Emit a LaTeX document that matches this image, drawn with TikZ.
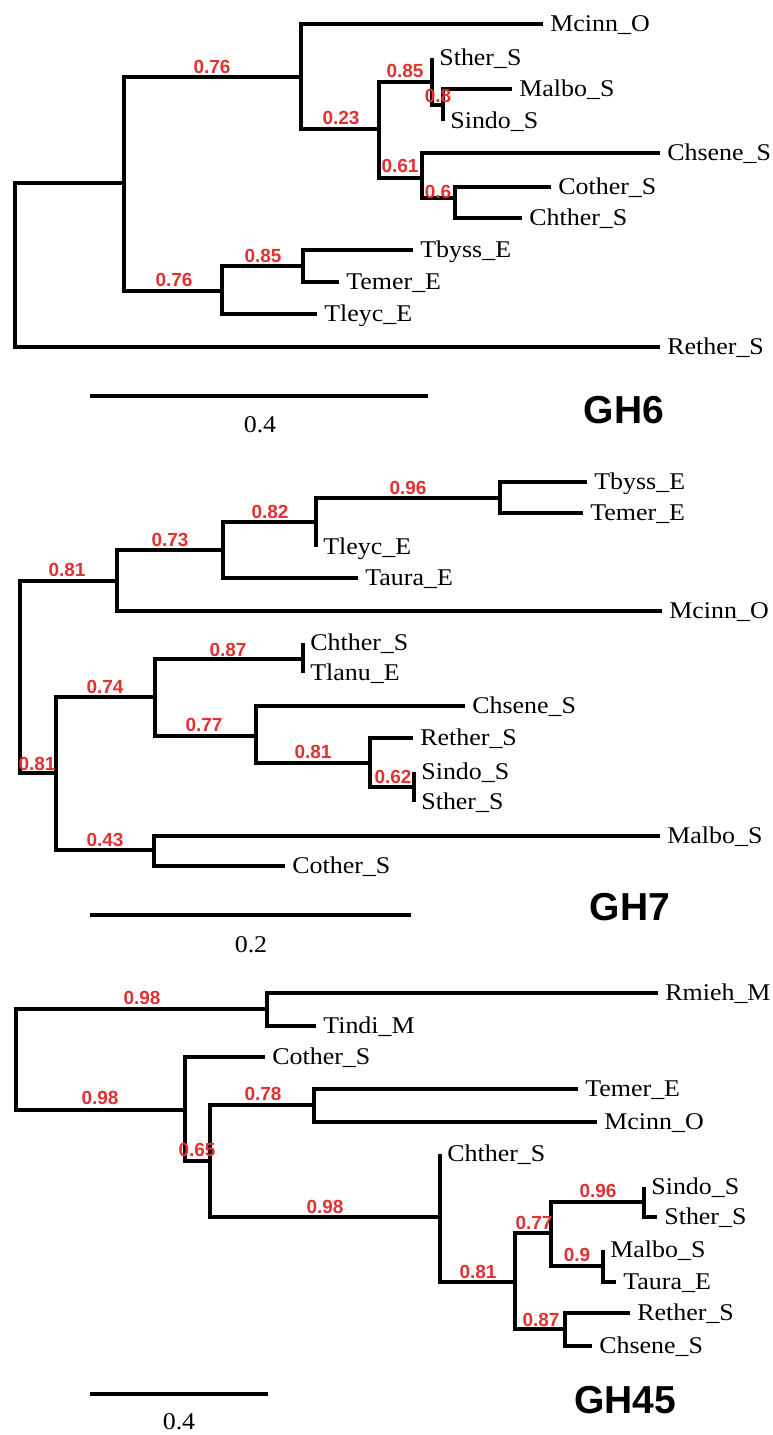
\documentclass[tikz,border=0pt]{standalone}
\usepackage{fontspec}
\setmainfont{Liberation Serif}[FakeStretch=1.08]
\newfontfamily\bsfont{Liberation Sans}
\definecolor{supred}{HTML}{E03232}
\tikzset{
  branch/.style={line width=1.7pt, line join=miter},
  leaf/.style={anchor=west, inner xsep=3.5pt, inner ysep=0pt, text height=7.9pt, text depth=0pt, font=\fontsize{12}{13}\selectfont},
  bs/.style={text=supred, inner sep=0pt, font=\bsfont\bfseries\fontsize{9.5}{10}\selectfont},
  scaletext/.style={inner sep=0pt, font=\fontsize{12}{13}\selectfont},
  title/.style={inner sep=0pt, font=\bsfont\bfseries\fontsize{19.5}{20}\selectfont}
}
\begin{document}
\begin{tikzpicture}[x=0.5pt,y=-0.5pt]
\fill[white] (0,0) rectangle (772,1435);
\useasboundingbox (0,0) rectangle (772,1435);

% ---------------- GH6 ----------------
\coordinate (a0) at (15,265);
\coordinate (a1) at (124,183);
\coordinate (a2) at (301,77);
\node[leaf] (aMcinn) at (543,24) {Mcinn\_O};
\coordinate (a3) at (379,129);
\coordinate (a4) at (432,82);
\node[leaf] (aSther) at (432,58) {Sther\_S};
\coordinate (a5) at (443,105);
\node[leaf] (aMalbo) at (512,89) {Malbo\_S};
\node[leaf] (aSindo) at (443,121) {Sindo\_S};
\coordinate (a6) at (422,178);
\node[leaf] (aChsene) at (660,153) {Chsene\_S};
\coordinate (a7) at (455,198);
\node[leaf] (aCother) at (551,187) {Cother\_S};
\node[leaf] (aChther) at (522,218) {Chther\_S};
\coordinate (a8) at (222,291);
\coordinate (a9) at (303,266);
\node[leaf] (aTbyss) at (413,250) {Tbyss\_E};
\node[leaf] (aTemer) at (339,282) {Temer\_E};
\node[leaf] (aTleyc) at (317,314) {Tleyc\_E};
\node[leaf] (aRether) at (660,347) {Rether\_S};

\draw[branch] (a0) |- (a1);
\draw[branch] (a0) |- (aRether.west);
\draw[branch] (a1) |- (a2);
\draw[branch] (a1) |- (a8);
\draw[branch] (a2) |- (aMcinn.west);
\draw[branch] (a2) |- (a3);
\draw[branch] (a3) |- (a4);
\draw[branch] (a3) |- (a6);
\draw[branch] (a4) |- (aSther.west);
\draw[branch] (a4) |- (a5);
\draw[branch] (a5) |- (aMalbo.west);
\draw[branch] (a5) |- (aSindo.west);
\draw[branch] (a6) |- (aChsene.west);
\draw[branch] (a6) |- (a7);
\draw[branch] (a7) |- (aCother.west);
\draw[branch] (a7) |- (aChther.west);
\draw[branch] (a8) |- (a9);
\draw[branch] (a8) |- (aTleyc.west);
\draw[branch] (a9) |- (aTbyss.west);
\draw[branch] (a9) |- (aTemer.west);

\node[bs] (as1) at (212,67) {0.76};
\node[bs] (as2) at (341,118) {0.23};
\node[bs] (as3) at (405,71) {0.85};
\node[bs] (as4) at (438,96) {0.8};
\node[bs] (as5) at (400,166) {0.61};
\node[bs] (as6) at (438,192) {0.6};
\node[bs] (as7) at (174,280) {0.76};
\node[bs] (as8) at (263,256) {0.85};

\coordinate (asa) at (90,396);
\coordinate (asb) at (428,396);
\draw[branch] (asa) -- (asb);
\node[scaletext] (asl) at (260,425) {0.4};
\node[title] (at) at (624,410) {GH6};

% ---------------- GH7 ----------------
\coordinate (b0) at (20,677);
\coordinate (b1) at (117,581);
\coordinate (b2) at (223,550);
\coordinate (b3) at (316,522);
\coordinate (b4) at (500,498);
\node[leaf] (bTbyss) at (587,482) {Tbyss\_E};
\node[leaf] (bTemer) at (583,513) {Temer\_E};
\node[leaf] (bTleyc) at (316,547) {Tleyc\_E};
\node[leaf] (bTaura) at (358,578) {Taura\_E};
\node[leaf] (bMcinn) at (662,611) {Mcinn\_O};
\coordinate (b5) at (56,773);
\coordinate (b6) at (155,697);
\coordinate (b7) at (303,659);
\node[leaf] (bChther) at (303,643) {Chther\_S};
\node[leaf] (bTlanu) at (303,673) {Tlanu\_E};
\coordinate (b8) at (256,736);
\node[leaf] (bChsene) at (465,706) {Chsene\_S};
\coordinate (b9) at (370,763);
\node[leaf] (bRether) at (413,738) {Rether\_S};
\coordinate (b10) at (414,787);
\node[leaf] (bSindo) at (414,772) {Sindo\_S};
\node[leaf] (bSther) at (414,802) {Sther\_S};
\coordinate (b11) at (154,850);
\node[leaf] (bMalbo) at (660,836) {Malbo\_S};
\node[leaf] (bCother) at (285,866) {Cother\_S};

\draw[branch] (b0) |- (b1);
\draw[branch] (b0) |- (b5);
\draw[branch] (b1) |- (b2);
\draw[branch] (b1) |- (bMcinn.west);
\draw[branch] (b2) |- (b3);
\draw[branch] (b2) |- (bTaura.west);
\draw[branch] (b3) |- (b4);
\draw[branch] (b3) |- (bTleyc.west);
\draw[branch] (b4) |- (bTbyss.west);
\draw[branch] (b4) |- (bTemer.west);
\draw[branch] (b5) |- (b6);
\draw[branch] (b5) |- (b11);
\draw[branch] (b6) |- (b7);
\draw[branch] (b6) |- (b8);
\draw[branch] (b7) |- (bChther.west);
\draw[branch] (b7) |- (bTlanu.west);
\draw[branch] (b8) |- (bChsene.west);
\draw[branch] (b8) |- (b9);
\draw[branch] (b9) |- (bRether.west);
\draw[branch] (b9) |- (b10);
\draw[branch] (b10) |- (bSindo.west);
\draw[branch] (b10) |- (bSther.west);
\draw[branch] (b11) |- (bMalbo.west);
\draw[branch] (b11) |- (bCother.west);

\node[bs] (bs1) at (408,488) {0.96};
\node[bs] (bs2) at (270,512) {0.82};
\node[bs] (bs3) at (170,540) {0.73};
\node[bs] (bs4) at (67,570) {0.81};
\node[bs] (bs5) at (228,650) {0.87};
\node[bs] (bs6) at (105,687) {0.74};
\node[bs] (bs7) at (204,725) {0.77};
\node[bs] (bs8) at (313,752) {0.81};
\node[bs] (bs9) at (37,764) {0.81};
\node[bs] (bs10) at (393,777) {0.62};
\node[bs] (bs11) at (105,840) {0.43};

\coordinate (bsa) at (90,915);
\coordinate (bsb) at (411,915);
\draw[branch] (bsa) -- (bsb);
\node[scaletext] (bsl) at (251,945) {0.2};
\node[title] (bt) at (630,907) {GH7};

% ---------------- GH45 ----------------
\coordinate (c0) at (16,1060);
\coordinate (c1) at (267,1009);
\node[leaf] (cRmieh) at (658,993) {Rmieh\_M};
\node[leaf] (cTindi) at (316,1026) {Tindi\_M};
\coordinate (c2) at (185,1110);
\node[leaf] (cCother) at (265,1057) {Cother\_S};
\coordinate (c3) at (210,1161);
\coordinate (c4) at (314,1105);
\node[leaf] (cTemer) at (578,1089) {Temer\_E};
\node[leaf] (cMcinn) at (597,1122) {Mcinn\_O};
\coordinate (c5) at (440,1217);
\node[leaf] (cChther) at (440,1154) {Chther\_S};
\coordinate (c6) at (515,1282);
\coordinate (c7) at (551,1233);
\coordinate (c8) at (644,1202);
\node[leaf] (cSindo) at (644,1187) {Sindo\_S};
\node[leaf] (cSther) at (657,1217) {Sther\_S};
\coordinate (c9) at (603,1266);
\node[leaf] (cMalbo) at (603,1250) {Malbo\_S};
\node[leaf] (cTaura) at (616,1282) {Taura\_E};
\coordinate (c10) at (565,1329);
\node[leaf] (cRether) at (630,1313) {Rether\_S};
\node[leaf] (cChsene) at (592,1346) {Chsene\_S};

\draw[branch] (c0) |- (c1);
\draw[branch] (c0) |- (c2);
\draw[branch] (c1) |- (cRmieh.west);
\draw[branch] (c1) |- (cTindi.west);
\draw[branch] (c2) |- (cCother.west);
\draw[branch] (c2) |- (c3);
\draw[branch] (c3) |- (c4);
\draw[branch] (c3) |- (c5);
\draw[branch] (c4) |- (cTemer.west);
\draw[branch] (c4) |- (cMcinn.west);
\draw[branch] (c5) |- (cChther.west);
\draw[branch] (c5) |- (c6);
\draw[branch] (c6) |- (c7);
\draw[branch] (c6) |- (c10);
\draw[branch] (c7) |- (c8);
\draw[branch] (c7) |- (c9);
\draw[branch] (c8) |- (cSindo.west);
\draw[branch] (c8) |- (cSther.west);
\draw[branch] (c9) |- (cMalbo.west);
\draw[branch] (c9) |- (cTaura.west);
\draw[branch] (c10) |- (cRether.west);
\draw[branch] (c10) |- (cChsene.west);

\node[bs] (cs1) at (142,998) {0.98};
\node[bs] (cs2) at (100,1098) {0.98};
\node[bs] (cs3) at (263,1094) {0.78};
\node[bs] (cs4) at (197,1150) {0.65};
\node[bs] (cs5) at (325,1207) {0.98};
\node[bs] (cs6) at (598,1191) {0.96};
\node[bs] (cs7) at (534,1223) {0.77};
\node[bs] (cs8) at (577,1255) {0.9};
\node[bs] (cs9) at (478,1272) {0.81};
\node[bs] (cs10) at (541,1320) {0.87};

\coordinate (csa) at (90,1394);
\coordinate (csb) at (268,1394);
\draw[branch] (csa) -- (csb);
\node[scaletext] (csl) at (179,1422) {0.4};
\node[title] (ct) at (625,1400) {GH45};
\end{tikzpicture}
\end{document}
